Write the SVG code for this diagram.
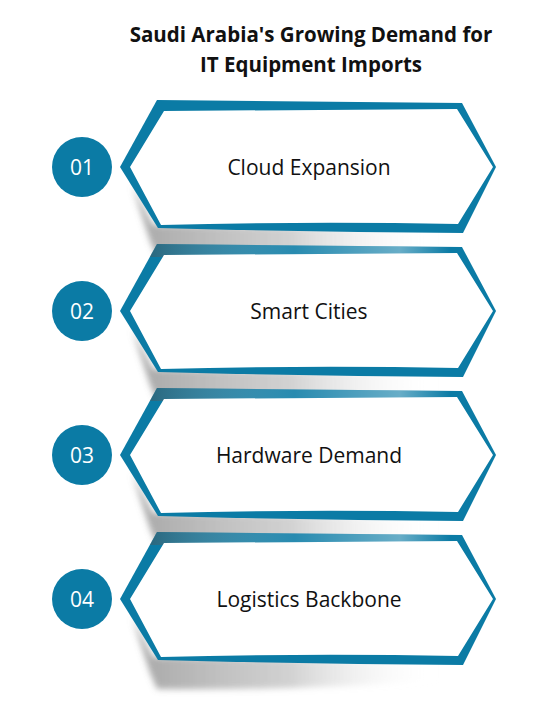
<svg xmlns="http://www.w3.org/2000/svg" xmlns:xlink="http://www.w3.org/1999/xlink" width="535" height="717" viewBox="0 0 535 717">
<style>
.title{font-family:"Open Sans","Liberation Sans",sans-serif;font-weight:bold;font-size:20.5px;fill:#111;text-anchor:middle}
.label{font-family:"Open Sans","Liberation Sans",sans-serif;font-size:21px;fill:#111;text-anchor:middle}
.num{font-family:"Open Sans","Liberation Sans",sans-serif;font-size:21px;fill:#fff;text-anchor:middle}
.blue{fill:#0b7ba5}
.white{fill:#fff}
</style>
<defs>
<path id="outer" d="M157,-67 L462,-64 L496,0 L463,66 Q310,65 158,61 L120,0 Z"/>
<path id="inner" d="M164,-56 L457,-58 L493,0 L458,57 Q310,54 161,58 L130,0 Z"/>
<path id="shadowShape" d="M132,18 L153,58 Q310,60 466,64 L462,80 Q300,92 157,90 L150,74 Z"/>
<clipPath id="clipOuter"><use xlink:href="#outer"/></clipPath>
<linearGradient id="shGrad" gradientUnits="userSpaceOnUse" x1="140" y1="0" x2="440" y2="0">
<stop offset="0" stop-color="#707070" stop-opacity="0.6"/>
<stop offset="0.5" stop-color="#9a9a9a" stop-opacity="0.45"/>
<stop offset="1" stop-color="#ffffff" stop-opacity="0"/>
</linearGradient>
<linearGradient id="tintGrad" gradientUnits="userSpaceOnUse" x1="150" y1="0" x2="470" y2="0">
<stop offset="0" stop-color="#505050" stop-opacity="0.45"/>
<stop offset="0.45" stop-color="#ffffff" stop-opacity="0.12"/>
<stop offset="0.78" stop-color="#ffffff" stop-opacity="0.38"/>
<stop offset="0.94" stop-color="#ffffff" stop-opacity="0"/>
</linearGradient>
<filter id="blur" x="-10%" y="-50%" width="120%" height="200%"><feGaussianBlur stdDeviation="3"/></filter>
</defs>
<rect width="535" height="717" fill="#fff"/>
<g id="title">
<text class="title" x="311" y="42">Saudi Arabia's Growing Demand for</text>
<text class="title" x="311" y="72">IT Equipment Imports</text>
</g>
<g id="connectors"></g>
<g id="shadows">
<use xlink:href="#shadowShape" transform="translate(0,167)" fill="url(#shGrad)" filter="url(#blur)"/>
<use xlink:href="#shadowShape" transform="translate(0,311)" fill="url(#shGrad)" filter="url(#blur)"/>
<use xlink:href="#shadowShape" transform="translate(0,455)" fill="url(#shGrad)" filter="url(#blur)"/>
<use xlink:href="#shadowShape" transform="translate(0,599)" fill="url(#shGrad)" filter="url(#blur)"/>
</g>
<g id="item1" transform="translate(0,167)">
<use xlink:href="#outer" class="blue"/>
<use xlink:href="#inner" class="white"/>
<circle cx="82" cy="0" r="30" class="blue"/>
<text class="num" x="82" y="7.5">01</text>
<text class="label" x="309" y="8">Cloud Expansion</text>
</g>
<g id="item2" transform="translate(0,311)">
<use xlink:href="#outer" class="blue"/>
<rect x="110" y="-72" width="400" height="18" fill="url(#tintGrad)" clip-path="url(#clipOuter)"/>
<use xlink:href="#inner" class="white"/>
<circle cx="82" cy="0" r="30" class="blue"/>
<text class="num" x="82" y="7.5">02</text>
<text class="label" x="309" y="8">Smart Cities</text>
</g>
<g id="item3" transform="translate(0,455)">
<use xlink:href="#outer" class="blue"/>
<rect x="110" y="-72" width="400" height="18" fill="url(#tintGrad)" clip-path="url(#clipOuter)"/>
<use xlink:href="#inner" class="white"/>
<circle cx="82" cy="0" r="30" class="blue"/>
<text class="num" x="82" y="7.5">03</text>
<text class="label" x="309" y="8">Hardware Demand</text>
</g>
<g id="item4" transform="translate(0,599)">
<use xlink:href="#outer" class="blue"/>
<rect x="110" y="-72" width="400" height="18" fill="url(#tintGrad)" clip-path="url(#clipOuter)"/>
<use xlink:href="#inner" class="white"/>
<circle cx="82" cy="0" r="30" class="blue"/>
<text class="num" x="82" y="7.5">04</text>
<text class="label" x="309" y="8">Logistics Backbone</text>
</g>
</svg>
